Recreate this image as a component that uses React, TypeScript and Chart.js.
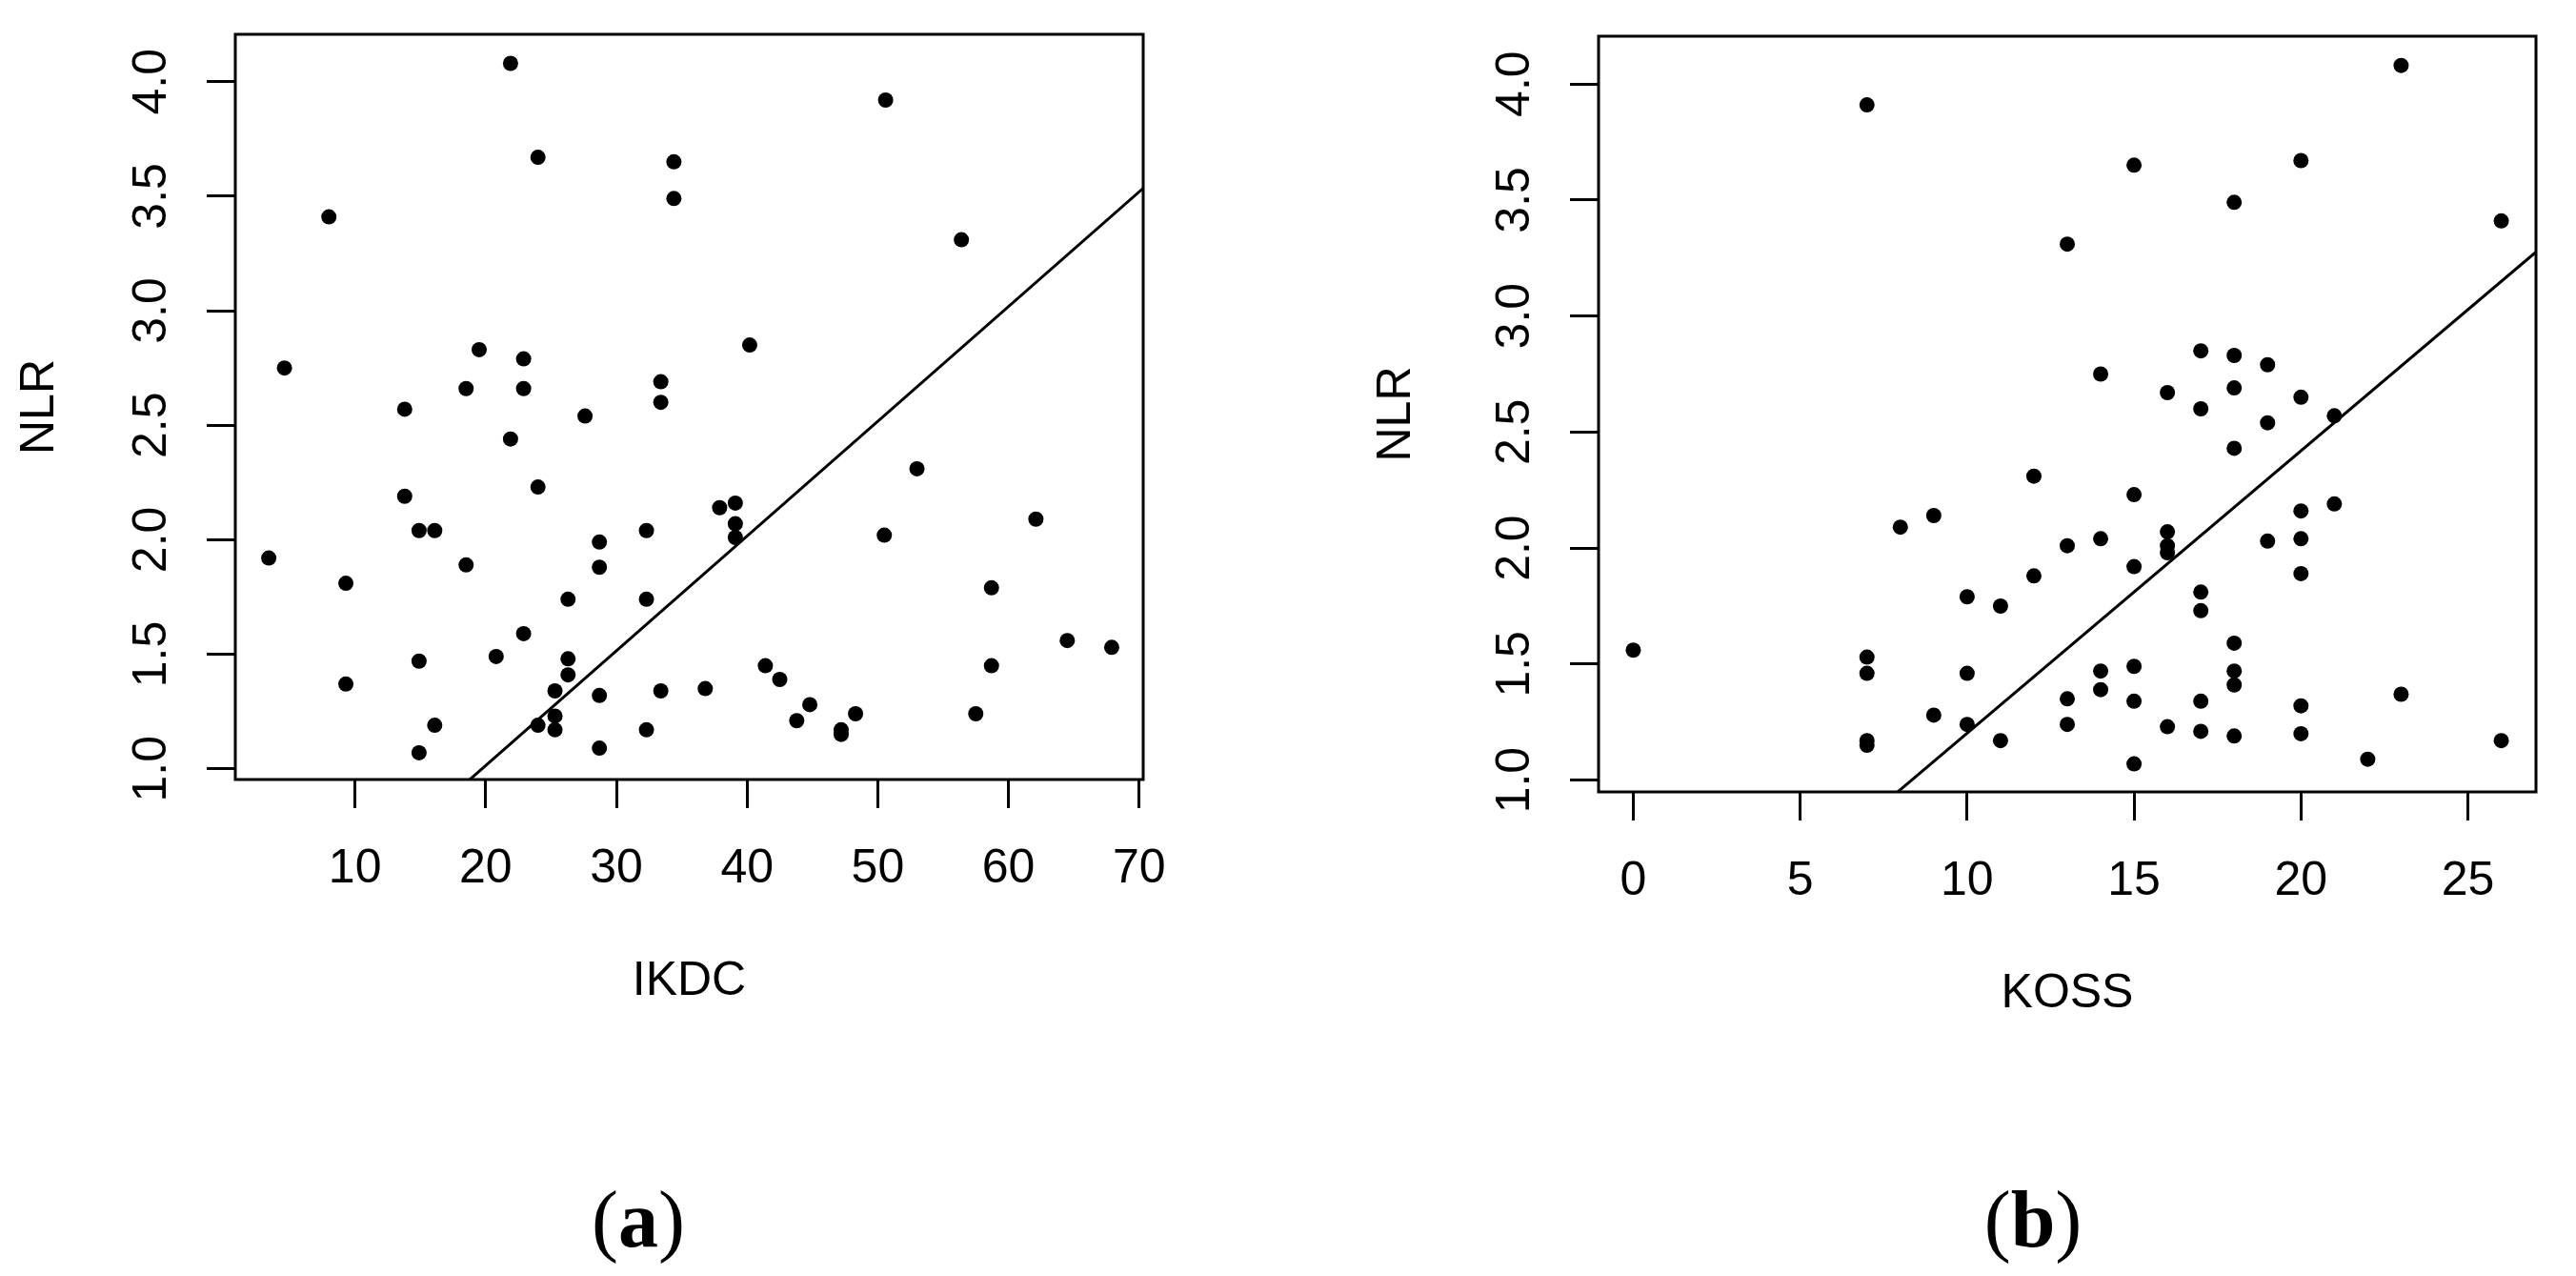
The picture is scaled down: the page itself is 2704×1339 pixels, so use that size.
import React, { useEffect, useRef } from "react";
import { Chart, registerables } from "chart.js";

Chart.register(...registerables);
Chart.defaults.font.family = '"Liberation Sans", Arial, Helvetica, sans-serif';
Chart.defaults.color = "#000";

// ---------- Data: panel (a) NLR vs IKDC ----------
const ikdcScores = [
  21.9, 24.0, 34.4, 34.4, 8.0, 19.5, 22.9, 4.6, 18.5, 22.9, 33.4, 33.4, 13.8, 27.6,
  50.6, 56.4, 40.2, 21.9, 24.0, 13.8, 14.9, 16.1, 32.3, 28.7, 28.7, 3.4, 18.5, 9.3,
  26.3, 32.3, 22.9, 20.8, 14.9, 26.3, 26.3, 9.3, 25.3, 28.7, 33.4, 25.3, 24.0, 25.3,
  16.1, 14.9, 32.3, 28.7, 53.0, 37.9, 39.1, 39.1, 39.1, 50.5, 62.1, 58.7, 64.5, 67.9,
  58.7, 41.4, 42.5, 36.8, 44.8, 43.8, 48.3, 47.2, 47.2, 57.5,
];
const nlrByIkdc = [
  4.08, 3.67, 3.65, 3.49, 3.41, 2.83, 2.79, 2.75, 2.66, 2.66, 2.69, 2.6, 2.57, 2.54,
  3.92, 3.31, 2.85, 2.44, 2.23, 2.19, 2.04, 2.04, 2.04, 1.99, 1.88, 1.92, 1.89, 1.81,
  1.74, 1.74, 1.59, 1.49, 1.47, 1.48, 1.41, 1.37, 1.34, 1.32, 1.34, 1.23, 1.19, 1.17,
  1.19, 1.07, 1.17, 1.09, 2.31, 2.14, 2.16, 2.07, 2.01, 2.02, 2.09, 1.79, 1.56, 1.53,
  1.45, 1.45, 1.39, 1.35, 1.28, 1.21, 1.24, 1.17, 1.15, 1.24,
];
const ikdcTicks = [10, 20, 30, 40, 50, 60, 70];
const ikdcLineSlope = 0.0501;
const ikdcLineIntercept = 0.012;

// ---------- Data: panel (b) NLR vs KOSS ----------
const kossScores = [
  0, 7, 7, 7, 7, 7, 8, 9, 9, 10, 10, 10, 11, 11, 12, 12, 13, 13, 13, 13, 14, 14, 14, 14,
  15, 15, 15, 15, 15, 15, 16, 16, 16, 16, 16, 17, 17, 17, 17, 17, 17, 18, 18, 18, 18, 18,
  18, 18, 18, 19, 19, 19, 20, 20, 20, 20, 20, 20, 20, 21, 21, 22, 23, 23, 26, 26,
];
const nlrByKoss = [
  1.56, 3.91, 1.53, 1.46, 1.17, 1.15, 2.09, 2.14, 1.28, 1.79, 1.46, 1.24, 1.75, 1.17,
  2.31, 1.88, 3.31, 2.01, 1.35, 1.24, 2.75, 2.04, 1.47, 1.39, 3.65, 2.23, 1.92, 1.49,
  1.34, 1.07, 2.67, 2.07, 2.01, 1.98, 1.23, 2.85, 2.6, 1.81, 1.73, 1.34, 1.21, 3.49,
  2.83, 2.69, 2.43, 1.59, 1.47, 1.41, 1.19, 2.79, 2.54, 2.03, 3.67, 2.65, 2.16, 2.04,
  1.89, 1.32, 1.2, 2.57, 2.19, 1.09, 4.08, 1.37, 3.41, 1.17,
];
const kossTicks = [0, 5, 10, 15, 20, 25];
const kossLineSlope = 0.1217;
const kossLineIntercept = -0.015;

const nlrTicks = [1.0, 1.5, 2.0, 2.5, 3.0, 3.5, 4.0];

// ---------- Layout ----------
const CANVAS_W = 1352;
const CANVAS_H = 1339;
const FONT_SIZE = 50;

type Panel = {
  canvasLeft: number;
  xs: number[];
  ys: number[];
  xTitle: string;
  xMin: number;
  xMax: number;
  yMin: number;
  yMax: number;
  xTicks: number[];
  slope: number;
  intercept: number;
  area: { left: number; top: number; right: number; bottom: number };
  xAxisH: number;
  yTitlePad: number;
};

const panels: Panel[] = [
  {
    canvasLeft: 0,
    xs: ikdcScores,
    ys: nlrByIkdc,
    xTitle: "IKDC",
    xMin: 0.84,
    xMax: 70.31,
    yMin: 0.953,
    yMax: 4.207,
    xTicks: ikdcTicks,
    slope: ikdcLineSlope,
    intercept: ikdcLineIntercept,
    area: { left: 247, top: 36, right: 1200, bottom: 818 },
    xAxisH: 242,
    yTitlePad: 12,
  },
  {
    canvasLeft: 1352,
    xs: kossScores,
    ys: nlrByKoss,
    xTitle: "KOSS",
    xMin: -1.04,
    xMax: 27.04,
    yMin: 0.949,
    yMax: 4.206,
    xTicks: kossTicks,
    slope: kossLineSlope,
    intercept: kossLineIntercept,
    area: { left: 326, top: 38, right: 1310, bottom: 831 },
    xAxisH: 242,
    yTitlePad: 84,
  },
];

const framePlugin = {
  id: "rframe",
  afterDraw(chart: any) {
    const { ctx, chartArea: a } = chart;
    ctx.save();
    ctx.strokeStyle = "#000";
    ctx.lineWidth = 3;
    ctx.strokeRect(a.left, a.top, a.right - a.left, a.bottom - a.top);
    const ys = chart.scales.y;
    ctx.font = `${FONT_SIZE}px "Liberation Sans", Arial, sans-serif`;
    ctx.fillStyle = "#000";
    ctx.textAlign = "center";
    ctx.textBaseline = "middle";
    ys.ticks.forEach((t: any) => {
      const py = ys.getPixelForValue(t.value);
      ctx.save();
      ctx.translate(a.left - 87, py);
      ctx.rotate(-Math.PI / 2);
      ctx.fillText(Number(t.value).toFixed(1), 0, 0);
      ctx.restore();
    });
    ctx.restore();
  },
};

function makeChart(canvas: HTMLCanvasElement, p: Panel) {
  const points = p.xs.map((x, i) => ({ x, y: p.ys[i] }));
  const linePts = [p.xMin, p.xMax].map((x) => ({ x, y: p.intercept + p.slope * x }));
  const tickGrid = {
    drawOnChartArea: false,
    drawTicks: true,
    tickLength: 30,
    tickWidth: 3,
    tickColor: "#000",
  };
  return new Chart(canvas, {
    type: "scatter",
    data: {
      datasets: [
        {
          type: "scatter",
          data: points,
          pointRadius: 8,
          pointHoverRadius: 8,
          pointStyle: "circle",
          backgroundColor: "#000",
          borderColor: "#000",
          borderWidth: 0,
        } as any,
        {
          type: "line",
          data: linePts,
          borderColor: "#000",
          borderWidth: 3,
          pointRadius: 0,
          fill: false,
          tension: 0,
        } as any,
      ],
    },
    options: {
      responsive: false,
      animation: false,
      events: [],
      layout: {
        padding: {
          left: 0,
          top: p.area.top,
          right: CANVAS_W - p.area.right,
          bottom: CANVAS_H - p.area.bottom - p.xAxisH,
        },
      },
      plugins: {
        legend: { display: false },
        tooltip: { enabled: false },
      },
      scales: {
        x: {
          type: "linear",
          position: "bottom",
          min: p.xMin,
          max: p.xMax,
          afterBuildTicks: (s: any) => {
            s.ticks = p.xTicks.map((v) => ({ value: v }));
          },
          afterFit: (s: any) => {
            s.height = p.xAxisH;
          },
          grid: tickGrid,
          border: { display: false },
          ticks: {
            color: "#000",
            font: { size: FONT_SIZE },
            padding: 34,
            maxRotation: 0,
            minRotation: 0,
            autoSkip: false,
          },
          title: {
            display: true,
            text: p.xTitle,
            color: "#000",
            font: { size: FONT_SIZE },
            padding: { top: 0, bottom: 0 },
          },
        },
        y: {
          type: "linear",
          position: "left",
          min: p.yMin,
          max: p.yMax,
          afterBuildTicks: (s: any) => {
            s.ticks = nlrTicks.map((v) => ({ value: v }));
          },
          afterFit: (s: any) => {
            s.width = p.area.left;
          },
          grid: tickGrid,
          border: { display: false },
          ticks: { display: false },
          title: {
            display: true,
            text: "NLR",
            color: "#000",
            font: { size: FONT_SIZE },
            padding: { top: p.yTitlePad, bottom: 0 },
          },
        },
      },
    } as any,
    plugins: [framePlugin],
  });
}

function PanelChart({ panel }: { panel: Panel }) {
  const ref = useRef<HTMLCanvasElement | null>(null);
  useEffect(() => {
    if (!ref.current) return;
    const chart = makeChart(ref.current, panel);
    return () => chart.destroy();
  }, [panel]);
  return (
    <canvas
      ref={ref}
      width={CANVAS_W}
      height={CANVAS_H}
      style={{
        position: "absolute",
        left: panel.canvasLeft,
        top: 0,
        width: CANVAS_W,
        height: CANVAS_H,
        display: "block",
      }}
    />
  );
}

const captionStyle = (cx: number): React.CSSProperties => ({
  position: "absolute",
  left: cx,
  top: 1280,
  transform: "translate(-50%, -50%)",
  fontFamily: '"Liberation Serif", "Times New Roman", serif',
  fontSize: 84,
  lineHeight: 1,
  color: "#000",
  whiteSpace: "nowrap",
});

export default function App() {
  return (
    <div
      style={{
        position: "absolute",
        left: 0,
        top: 0,
        width: 2704,
        height: 1339,
        background: "#fff",
        overflow: "hidden",
      }}
    >
      {panels.map((p, i) => (
        <PanelChart key={i} panel={p} />
      ))}
      <div style={captionStyle(670)}>
        (<b>a</b>)
      </div>
      <div style={captionStyle(2134)}>
        (<b>b</b>)
      </div>
    </div>
  );
}
